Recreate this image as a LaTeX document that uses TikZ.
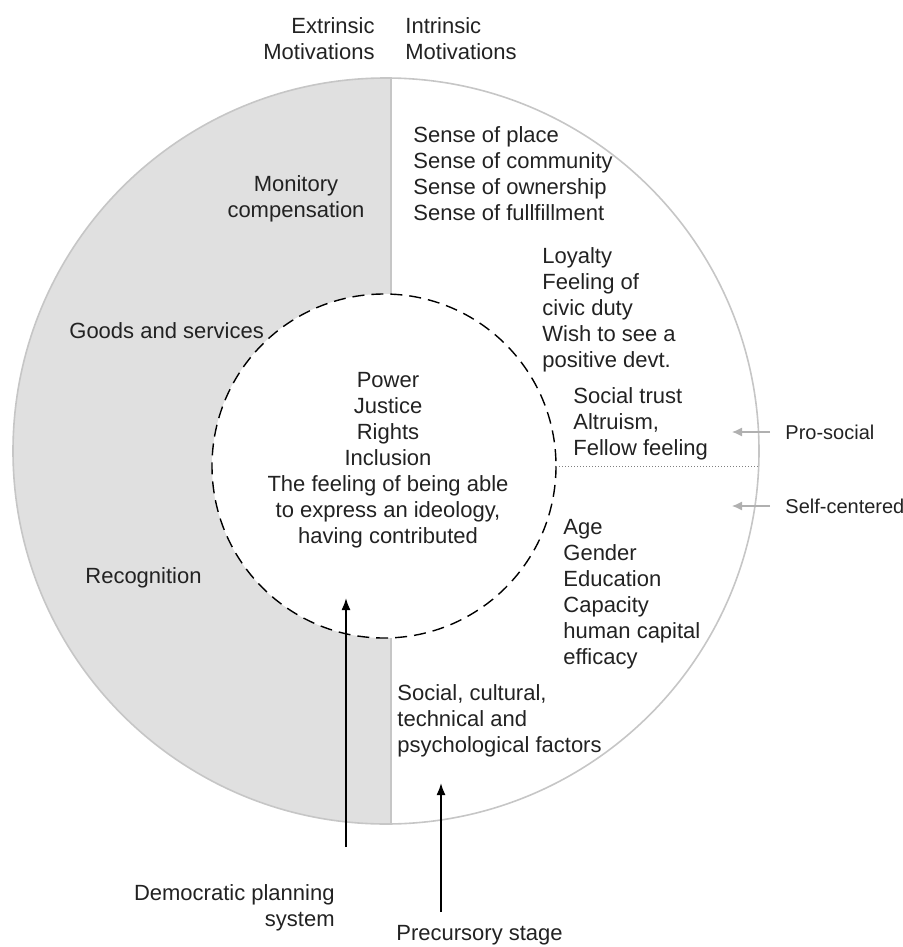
\documentclass[tikz,border=0pt]{standalone}
\usepackage{fontspec}
\setmainfont{Liberation Sans}
\usetikzlibrary{arrows.meta,positioning}

\definecolor{shadegray}{HTML}{E0E0E0}
\definecolor{rimgray}{HTML}{C6C6C6}
\definecolor{tipgray}{HTML}{B0B0B0}
\definecolor{inkgray}{HTML}{222222}

\begin{document}
\begin{tikzpicture}[x = .5pt, y = -.5pt, font=\fontsize{11}{13}\selectfont, text=inkgray,
  lbl/.style={inner sep=0pt, align=left, anchor=north west},
  arr/.style={line width=.8pt, -{Latex[length=6pt,width=4.5pt]}},
  grayarr/.style={tipgray, line width=.6pt, -{Latex[length=5pt,width=4.5pt]}}]
\useasboundingbox (0,0) rectangle (902,947);
% Extrinsic half (grey)
\begin{scope}
\clip (0,0) rectangle (391,947);
\fill[shadegray] (386,451) circle[radius=373];
\end{scope}
\fill[white] (384,466) circle[radius=172];
\draw[rimgray, line width=.8pt] (386,451) circle[radius=373];
% Divider between the two halves
\coordinate (divtop) at (391,78);
\coordinate (divinA) at (391,294);
\coordinate (divinB) at (391,638);
\coordinate (divbot) at (391,824);
\draw[rimgray, line width=.8pt] (divtop) -- (divinA) (divinB) -- (divbot);
% Inner dashed circle
\draw[dash pattern=on 6pt off 3.5pt, line width=.7pt] (384,466) circle[radius=172];
% Pro-social / self-centered split
\coordinate (innerE) at (556,466);
\coordinate (outerE) at (758,466);
\draw[densely dotted, gray, line width=.5pt] (innerE) -- (outerE);
% Headings
\node[lbl, anchor=north east, align=right] (extrinsic) at (375,17) {Extrinsic\\Motivations};
\node[lbl] (intrinsic) at (405,17) {Intrinsic\\Motivations};
% Extrinsic motivations
\node[lbl, anchor=north, align=center] (monitory) at (296,175) {Monitory\\compensation};
\node[lbl, anchor=west] (goods) at (69,331) {Goods and services};
\node[lbl, anchor=west] (recog) at (85,578) {Recognition};
% Intrinsic motivations
\node[lbl] (sense) at (413,126) {Sense of place\\Sense of community\\Sense of ownership\\Sense of fullfillment};
\node[lbl] (loyalty) at (542,247) {Loyalty\\Feeling of\\civic duty\\Wish to see a\\positive devt.};
\node[lbl] (trust) at (573,387) {Social trust\\Altruism,\\Fellow feeling};
\node[lbl] (age) at (563,519) {Age\\Gender\\Education\\Capacity\\human capital\\efficacy};
\node[lbl] (factors) at (397,684) {Social, cultural,\\technical and\\psychological factors};
% Centre
\node[lbl, anchor=north, align=center] (inner) at (388,372) {Power\\Justice\\Rights\\Inclusion\\The feeling of being able\\to express an ideology,\\having contributed};
% Side labels
\node[lbl, anchor=west, font=\fontsize{10}{12}\selectfont] (prosocial) at (785,432) {Pro-social};
\node[lbl, anchor=west, font=\fontsize{10}{12}\selectfont] (selfc) at (785,506) {Self-centered};
\coordinate (protip) at (732,432);
\coordinate (selftip) at (732,506);
\draw[grayarr] ([xshift=-7.5pt]prosocial.west) -- (protip);
\draw[grayarr] ([xshift=-7.5pt]selfc.west) -- (selftip);
% Bottom labels and arrows
\node[lbl, anchor=north east, align=right] (democratic) at (335,884) {Democratic planning\\system};
\node[lbl, anchor=west] (precursory) at (396,935) {Precursory stage};
\coordinate (demfoot) at (346,847);
\coordinate (demtip) at (346,598);
\coordinate (prefoot) at (441,912);
\coordinate (pretip) at (441,783);
\draw[arr] (demfoot) -- (demtip);
\draw[arr] (prefoot) -- (pretip);
\end{tikzpicture}
\end{document}
